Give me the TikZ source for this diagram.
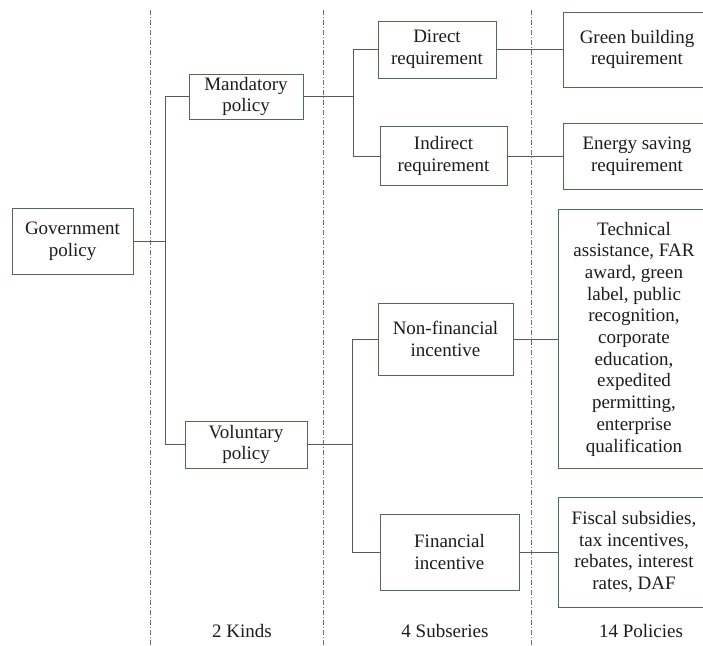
\documentclass[tikz,border=0pt]{standalone}
\usepackage{fontspec}
\setmainfont{Liberation Serif}
\definecolor{boxc}{HTML}{4F6A55}
\definecolor{linec}{HTML}{5A5A5A}
\definecolor{sepc}{HTML}{707070}
\definecolor{txtc}{HTML}{1C1C1C}
\begin{document}
\begin{tikzpicture}[x=1pt,y=-1pt,
  pbox/.style={draw=boxc,line width=1pt,rectangle,inner sep=0pt,align=center,
    text=txtc,font=\fontsize{19}{21.7}\selectfont},
  conn/.style={draw=linec,line width=0.9pt},
  sep/.style={draw=sepc,line width=0.7pt,dash pattern=on 5pt off 2pt on 1pt off 2pt},
  lab/.style={text=txtc,font=\fontsize{19}{21.7}\selectfont}]
\useasboundingbox (0,0) rectangle (703,645);
\begin{scope}
\clip (0,0) rectangle (703,645);
% separators
\coordinate (s1a) at (150,10); \coordinate (s1b) at (150,645);
\coordinate (s2a) at (323,10); \coordinate (s2b) at (323,645);
\coordinate (s3a) at (531,10); \coordinate (s3b) at (531,645);
\draw[sep] (s1a) -- (s1b);
\draw[sep] (s2a) -- (s2b);
\draw[sep] (s3a) -- (s3b);
% boxes
\node[pbox,minimum width=121,minimum height=66] (gov) at (72.5,241) {Government\\policy};
\node[pbox,minimum width=114,minimum height=45] (mand) at (246,96.5) {Mandatory\\policy};
\node[pbox,minimum width=122,minimum height=47] (vol) at (246,444.5) {Voluntary\\policy};
\node[pbox,minimum width=118,minimum height=57] (dir) at (437,49.5) {Direct\\requirement};
\node[pbox,minimum width=127,minimum height=59] (ind) at (443.5,156) {Indirect\\requirement};
\node[pbox,minimum width=135,minimum height=72] (nonfin) at (445.5,339) {Non-financial\\incentive};
\node[pbox,minimum width=139,minimum height=76] (fin) at (449.5,552) {Financial\\incentive};
\node[pbox,minimum width=148,minimum height=75] (green) at (637,49.5) {Green building\\requirement};
\node[pbox,minimum width=148,minimum height=66] (energy) at (637,156) {Energy saving\\requirement};
\node[pbox,minimum width=152,minimum height=259] (tech) at (634,339) {Technical\\assistance, FAR\\award, green\\label, public\\recognition,\\corporate\\education,\\expedited\\permitting,\\enterprise\\qualification};
\node[pbox,minimum width=152,minimum height=110] (fiscal) at (634,552) {Fiscal subsidies,\\tax incentives,\\rebates, interest\\rates, DAF};
% trunks
\coordinate (t1) at (165,0);
\coordinate (t2) at (353,0);
\coordinate (t3) at (352,0);
\draw[conn] (gov.east) -- (t1 |- gov.east);
\draw[conn] (mand.west) -- (t1 |- mand.west) -- (t1 |- vol.west) -- (vol.west);
\draw[conn] (mand.east) -- (t2 |- mand.east);
\draw[conn] (dir.west) -- (t2 |- dir.west) -- (t2 |- ind.west) -- (ind.west);
\draw[conn] (vol.east) -- (t3 |- vol.east);
\draw[conn] (nonfin.west) -- (t3 |- nonfin.west) -- (t3 |- fin.west) -- (fin.west);
\draw[conn] (dir.east) -- (green.west);
\draw[conn] (ind.east) -- (energy.west);
\draw[conn] (nonfin.east) -- (tech.west);
\draw[conn] (fin.east) -- (fiscal.west);
% labels
\node[lab] (l1) at (242,631) {2 Kinds};
\node[lab] (l2) at (445,631) {4 Subseries};
\node[lab] (l3) at (641,631) {14 Policies};
\end{scope}
\end{tikzpicture}
\end{document}
